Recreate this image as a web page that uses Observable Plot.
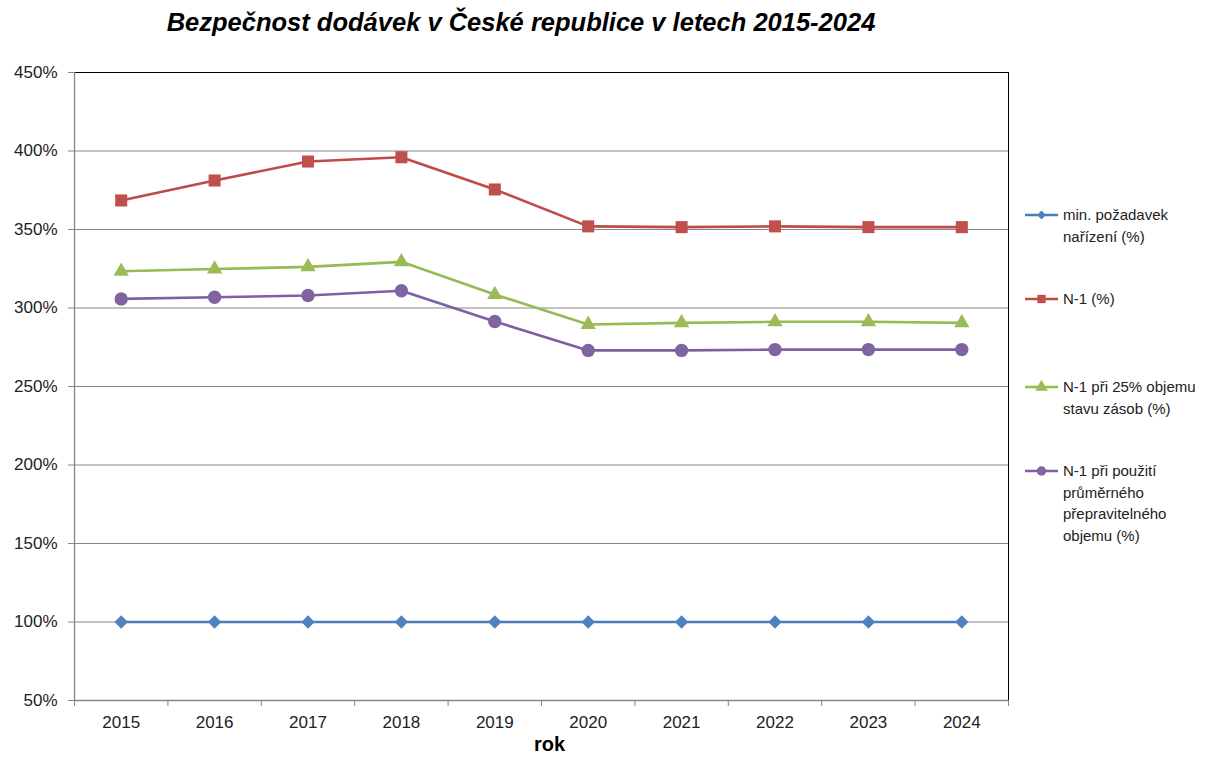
<!DOCTYPE html>
<html>
<head>
<meta charset="utf-8">
<script src="https://cdn.jsdelivr.net/npm/d3@7"></script>
<script src="https://cdn.jsdelivr.net/npm/@observablehq/plot@0.6"></script>
<style>
  html, body { margin: 0; padding: 0; background: #fff; }
  #wrap { position: relative; width: 1208px; height: 763px; overflow: hidden; font-family: "Liberation Sans", Arial, sans-serif; }
  #title { position: absolute; left: 0; top: 5px; width: 1042px; height: 45px; text-align: center;
           font-family: "Liberation Sans", Arial, sans-serif; font-weight: bold; font-style: italic; font-size: 25.5px; color: #000; line-height: 34px; }
  #chart { position: absolute; left: 0; top: 50px; }
  #legend { position: absolute; left: 1025px; top: 0; width: 183px; }
  .item { position: absolute; left: 0; width: 183px; }
  .item svg { position: absolute; left: 0; top: 0; }
  .item .lbl { position: absolute; left: 38px; top: 0; font-size: 15px; line-height: 21.5px; color: #222; white-space: nowrap; }
</style>
</head>
<body>
<div id="wrap">
  <div id="title">Bezpečnost dodávek v České republice v letech 2015-2024</div>
  <div id="chart"></div>
  <div id="legend"></div>
</div>
<script>
const years = [2015, 2016, 2017, 2018, 2019, 2020, 2021, 2022, 2023, 2024];
const minReq = [100, 100, 100, 100, 100, 100, 100, 100, 100, 100];
const n1 = [368.5, 381.2, 393.3, 396.0, 375.5, 352.0, 351.5, 352.0, 351.5, 351.5];
const n1Stock = [323.4, 324.8, 326.2, 329.4, 308.6, 289.5, 290.5, 291.2, 291.2, 290.5];
const n1Transport = [305.8, 306.8, 308.0, 311.0, 291.4, 273.0, 273.0, 273.5, 273.5, 273.5];
const yTicks = [50, 100, 150, 200, 250, 300, 350, 400, 450];
const seriesNames = [
  "min. požadavek nařízení (%)",
  "N-1 (%)",
  "N-1 při 25% objemu stavu zásob (%)",
  "N-1 při použití průměrného přepravitelného objemu (%)"
];
const legendLines = [
  ["min. požadavek", "nařízení (%)"],
  ["N-1 (%)"],
  ["N-1 při 25% objemu", "stavu zásob (%)"],
  ["N-1 při použití", "průměrného", "přepravitelného", "objemu (%)"]
];
const xLabel = "rok";

const lineColors = ["#4A7EBB", "#BE4B48", "#98B954", "#7D60A0"];
const markColors = ["#4F81BD", "#C0504D", "#9BBB59", "#8064A2"];
const symbols = ["diamond2", "square", "triangle", "circle"];
const radii = [6.0, 6.8, 5.7, 6.7];
const seriesValues = [minReq, n1, n1Stock, n1Transport];

const data = [];
seriesValues.forEach((vals, si) => {
  vals.forEach((v, i) => data.push({series: seriesNames[si], si, year: years[i], value: v}));
});
const bounds = d3.range(years.length + 1).map(i => years[0] - 0.5 + i);

const marks = [
  Plot.gridY(yTicks.slice(1, -1), {stroke: "#868686", strokeOpacity: 1, strokeWidth: 1}),
  Plot.frame({stroke: "#000", strokeWidth: 1}),
  Plot.ruleY([yTicks[0]], {stroke: "#868686", strokeWidth: 1.3}),
  Plot.ruleX([bounds[0]], {stroke: "#868686", strokeWidth: 1.3}),
  Plot.axisY({ticks: yTicks, tickFormat: d => d + "%", tickSize: 6, tickPadding: 11, stroke: "#868686", fill: "#222", fontSize: 17, label: null}),
  Plot.axisX({ticks: bounds, tickFormat: () => "", tickSize: 6, stroke: "#868686", label: null}),
  Plot.axisX({ticks: years, tickFormat: d => String(d), tickSize: 0, tickPadding: 15, fill: "#222", fontSize: 17, label: null}),
  Plot.text([xLabel], {frameAnchor: "bottom", dx: 8, dy: 50, text: d => d, fontSize: 20, fontWeight: "bold", fill: "#000"})
];
seriesValues.forEach((vals, si) => {
  const rows = data.filter(d => d.si === si);
  marks.push(Plot.line(rows, {x: "year", y: "value", stroke: lineColors[si], strokeWidth: 2.6}));
});
seriesValues.forEach((vals, si) => {
  const rows = data.filter(d => d.si === si);
  marks.push(Plot.dot(rows, {x: "year", y: "value", symbol: () => symbols[si], r: radii[si], fill: markColors[si], stroke: "none"}));
});

const chart = Plot.plot({
  width: 1208,
  height: 713,
  marginTop: 22,
  marginBottom: 63,
  marginLeft: 74,
  marginRight: 200,
  style: {fontFamily: "'Liberation Sans', Arial, sans-serif", fontSize: "16px", background: "#fff", overflow: "visible"},
  x: {type: "linear", domain: [bounds[0], bounds[bounds.length - 1]], axis: null, label: null},
  y: {type: "linear", domain: [yTicks[0], yTicks[yTicks.length - 1]], axis: null, label: null},
  symbol: {type: "identity"},
  marks
});
document.getElementById("chart").appendChild(chart);

// Legend (HTML, positioned to the right of the plot)
const legendTops = [204, 288, 376, 460];
const symbolTypes = {diamond2: d3.symbolDiamond2, square: d3.symbolSquare, triangle: d3.symbolTriangle, circle: d3.symbolCircle};
const legend = document.getElementById("legend");
legendLines.forEach((lines, si) => {
  const item = document.createElement("div");
  item.className = "item";
  item.style.top = legendTops[si] + "px";
  const svg = d3.create("svg").attr("width", 36).attr("height", 22);
  svg.append("line").attr("x1", 0).attr("x2", 33).attr("y1", 11).attr("y2", 11)
     .attr("stroke", lineColors[si]).attr("stroke-width", 2.6);
  svg.append("path").attr("transform", "translate(16.5,11)")
     .attr("d", d3.symbol().type(symbolTypes[symbols[si]]).size(si === 0 ? 50 : 70)())
     .attr("fill", markColors[si]);
  item.appendChild(svg.node());
  const lbl = document.createElement("div");
  lbl.className = "lbl";
  lbl.innerHTML = lines.join("<br>");
  item.appendChild(lbl);
  legend.appendChild(item);
});
</script>
</body>
</html>
